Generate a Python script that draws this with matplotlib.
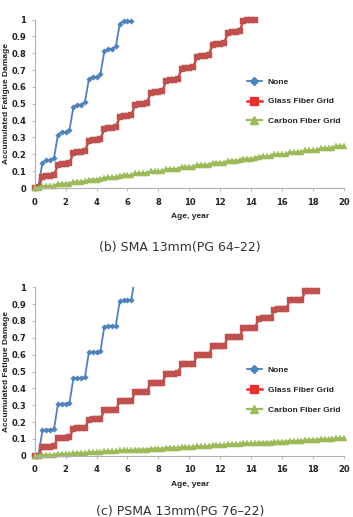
import matplotlib
matplotlib.use("Agg")
import matplotlib.pyplot as plt
from matplotlib.lines import Line2D
import numpy as np

# ---------------- data ----------------
series_names = ["None", "Glass Fiber Grid", "Carbon Fiber Grid"]

# cumulative damage reached at the end of each year (year 1, 2, ...)
sma_none_levels = [0.165, 0.33, 0.495, 0.66, 0.825, 0.99, 1.0]
sma_glass_levels = [0.071, 0.142, 0.213, 0.285, 0.356, 0.428, 0.499, 0.570,
                    0.641, 0.713, 0.784, 0.855, 0.927, 0.998, 1.0]
sma_carbon_levels = [0.0125, 0.025, 0.0375, 0.05, 0.0625, 0.075, 0.0875, 0.10,
                     0.1125, 0.125, 0.1375, 0.15, 0.1625, 0.175, 0.1875, 0.20,
                     0.2125, 0.225, 0.2375, 0.25]
sma_end_years = [6.25, 14.25, 20.0]
sma_quarter_share = [0.09, 0.82, 0.09, 0.0]

psma_none_levels = [0.155, 0.309, 0.462, 0.616, 0.77, 0.923, 1.077]
psma_glass_levels = [0.054, 0.108, 0.162, 0.216, 0.271, 0.325, 0.379, 0.433,
                     0.488, 0.543, 0.597, 0.651, 0.706, 0.760, 0.815, 0.869,
                     0.923, 0.978, 1.03]
psma_carbon_levels = [0.005, 0.0105, 0.0157, 0.021, 0.026, 0.031, 0.0365, 0.042,
                      0.047, 0.052, 0.057, 0.062, 0.068, 0.073, 0.078, 0.083,
                      0.088, 0.094, 0.099, 0.104]
psma_end_years = [6.5, 18.25, 20.0]
psma_quarter_share = [0.02, 0.96, 0.02, 0.0]

x_ticks = [0, 2, 4, 6, 8, 10, 12, 14, 16, 18, 20]
y_ticks = [0, 0.1, 0.2, 0.3, 0.4, 0.5, 0.6, 0.7, 0.8, 0.9, 1]
captions = ["(b) SMA 13mm(PG 64\u201322)", "(c) PSMA 13mm(PG 76\u201322)"]

# ---------------- styles ----------------
colors = ["#4F81BD", "#C0504D", "#9BBB59"]
legend_colors = ["#4F81BD", "#E8312E", "#9BBB59"]
markers = ["D", "s", "^"]
msizes = [2.8, 4.4, 4.2]
lws = [1.3, 1.8, 1.6]


def quarterly(levels, shares, end):
    t, v = [0.0], [0.0]
    prev = 0.0
    cum = np.cumsum(shares)
    for y, lev in enumerate(levels):
        for q in range(4):
            tt = y + (q + 1) / 4
            if tt > end + 1e-9:
                return t, v
            t.append(tt)
            v.append(prev + cum[q] * (lev - prev))
        prev = lev
    return t, v


W, H = 353, 517
fig = plt.figure(figsize=(W / 100, H / 100), dpi=100)

tick_font = dict(family="DejaVu Sans", weight="bold", size=6)
lab_font = dict(family="Liberation Sans", weight="bold", size=6)

panels = [
    dict(y0=188.0, y1=19.5,
         levels=[sma_none_levels, sma_glass_levels, sma_carbon_levels],
         ends=sma_end_years, shares=sma_quarter_share,
         clips=[False, False, False], leg_y=81.7, cap_y=248.0,
         caption=captions[0]),
    dict(y0=455.7, y1=287.3,
         levels=[psma_none_levels, psma_glass_levels, psma_carbon_levels],
         ends=psma_end_years, shares=psma_quarter_share,
         clips=[True, False, False], leg_y=370.0, cap_y=511.5,
         caption=captions[1]),
]

xl, xr = 34.7, 344.0
for p in panels:
    y0, y1 = p["y0"], p["y1"]
    ax = fig.add_axes([xl / W, (H - y0) / H, (xr - xl) / W, (y0 - y1) / H])
    for i in range(3):
        t, v = quarterly(p["levels"][i], p["shares"], p["ends"][i])
        ax.plot(t, v, color=colors[i], marker=markers[i], markersize=msizes[i],
                lw=lws[i], markeredgewidth=0.3, clip_on=p["clips"][i])
    ax.set_xlim(0, 20)
    ax.set_ylim(0, 1)
    ax.set_xticks(x_ticks)
    ax.set_yticks(y_ticks)
    ax.set_xticklabels([str(v) for v in x_ticks], fontdict=tick_font)
    ax.set_yticklabels(["{:g}".format(v) for v in y_ticks], fontdict=tick_font)
    for s in ["top", "right"]:
        ax.spines[s].set_visible(False)
    for s in ["left", "bottom"]:
        ax.spines[s].set_color("#B0B0B0")
        ax.spines[s].set_linewidth(0.8)
    ax.tick_params(axis="both", colors="#B0B0B0", length=2.5, width=0.6,
                   labelcolor="#222222")
    ax.tick_params(axis="x", pad=4.5)
    ax.tick_params(axis="y", pad=3.5)
    ax.patch.set_alpha(0)

    # axis titles
    fig.text(190 / W, (H - (y0 + 28.7)) / H, "Age, year", ha="center",
             va="center", color="#222222", **lab_font)
    fig.text(7 / W, (H - (y0 + y1) / 2) / H, "Accumulated Fatigue Damage",
             rotation=90, ha="center", va="center", color="#222222", **lab_font)

    # legend
    handles = [Line2D([], [], color=legend_colors[i], marker=markers[i],
                      markersize=msizes[i] + 1.5, lw=lws[i]) for i in range(3)]
    leg = ax.legend(handles, series_names, loc="upper left",
                    bbox_to_anchor=((246.7 - xl) / (xr - xl),
                                    (y0 - (p["leg_y"] - 4)) / (y0 - y1)),
                    frameon=False, borderpad=0, borderaxespad=0,
                    handlelength=1.8, handletextpad=0.75, labelspacing=1.45,
                    prop=dict(family="Liberation Sans", weight="bold", size=6.0))
    for txt in leg.get_texts():
        txt.set_color("#222222")

    fig.text(180 / W, (H - p["cap_y"]) / H, p["caption"],
             ha="center", va="center", family="DejaVu Sans", size=9,
             color="#333333")

fig.savefig("out.png", dpi=100)
